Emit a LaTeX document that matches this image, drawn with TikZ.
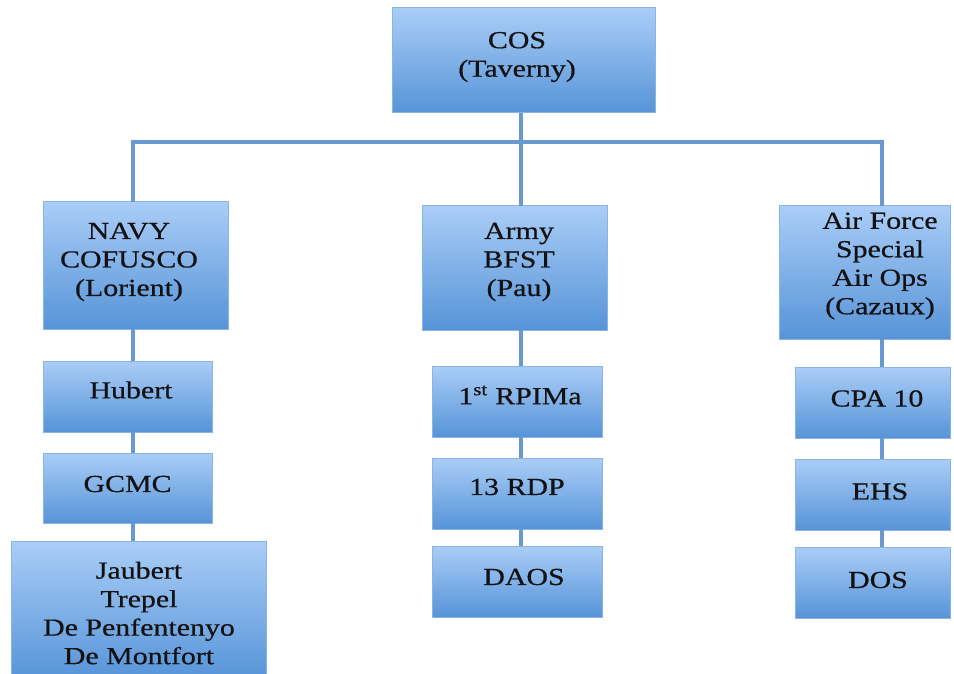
\documentclass[tikz,border=0pt]{standalone}
\usepackage{fontspec}
\setmainfont[FakeStretch=1.22,FakeBold=0.6]{Liberation Serif}
\definecolor{boxtop}{RGB}{170,205,247}
\definecolor{boxbot}{RGB}{86,148,216}
\definecolor{boxline}{RGB}{140,180,226}
\definecolor{connc}{RGB}{104,153,208}
\definecolor{txtc}{RGB}{18,18,18}
\tikzset{
  box/.style={draw=boxline, line width=1pt, top color=boxtop, bottom color=boxbot,
    inner sep=0pt, outer sep=0pt, rectangle},
  conn/.style={draw=connc, line width=3.5pt},
  txt/.style={align=center, inner sep=0pt, text=txtc,
    font=\fontsize{24.5}{28.5}\selectfont}
}
\begin{document}
\begin{tikzpicture}[x=1pt,y=-1pt]
\useasboundingbox (0,0) rectangle (954,674);
% boxes
\node[box, minimum width=263pt, minimum height=105pt] (cos) at (523.5,60.5) {};
\node[box, minimum width=185pt, minimum height=127pt] (navy) at (135.5,265.5) {};
\node[box, minimum width=169pt, minimum height=71pt] (hubert) at (127.5,396.5) {};
\node[box, minimum width=169pt, minimum height=70pt] (gcmc) at (127.5,488) {};
\node[box, minimum width=255pt, minimum height=139pt] (jaubert) at (138.5,610.5) {};
\node[box, minimum width=185pt, minimum height=124pt] (army) at (514.5,268) {};
\node[box, minimum width=170pt, minimum height=71pt] (rpima) at (517,401.5) {};
\node[box, minimum width=170pt, minimum height=71pt] (rdp) at (517,493.5) {};
\node[box, minimum width=170pt, minimum height=71pt] (daos) at (517,581.5) {};
\node[box, minimum width=171pt, minimum height=133pt] (air) at (864.5,272.5) {};
\node[box, minimum width=155pt, minimum height=71pt] (cpa) at (872.5,402.5) {};
\node[box, minimum width=155pt, minimum height=71pt] (ehs) at (872.5,494.5) {};
\node[box, minimum width=155pt, minimum height=71pt] (dos) at (872.5,582.5) {};
% texts
\node[txt] (tcos) at (517,57) {COS\\(Taverny)};
\node[txt] (tnavy) at (129,262) {NAVY\\COFUSCO\\(Lorient)};
\node[txt] (thubert) at (131,390) {Hubert};
\node[txt] (tgcmc) at (127.5,484) {GCMC};
\node[txt] (tjaubert) at (139,613) {Jaubert\\Trepel\\De Penfentenyo\\De Montfort};
\node[txt] (tarmy) at (519,262) {Army\\BFST\\(Pau)};
\node[txt] (trpima) at (520,395) {1\textsuperscript{st} RPIMa};
\node[txt] (trdp) at (517,487) {13 RDP};
\node[txt] (tdaos) at (524,577) {DAOS};
\node[txt] (tair) at (880,266) {Air Force\\Special\\Air Ops\\(Cazaux)};
\node[txt] (tcpa) at (877,398.5) {CPA 10};
\node[txt] (tehs) at (880,491.5) {EHS};
\node[txt] (tdos) at (878,580) {DOS};
% connectors
\coordinate (bl) at (133,142);
\coordinate (bm) at (521,142);
\coordinate (br) at (882,142);
\draw[conn] (cos.south -| bm) -- (army.north -| bm);
\draw[conn] (navy.north -| bl) -- (bl) -- (br) -- (air.north -| br);
\draw[conn] (navy.south -| bl) -- (hubert.north -| bl);
\draw[conn] (hubert.south -| bl) -- (gcmc.north -| bl);
\draw[conn] (gcmc.south -| bl) -- (jaubert.north -| bl);
\draw[conn] (army.south -| bm) -- (rpima.north -| bm);
\draw[conn] (rpima.south -| bm) -- (rdp.north -| bm);
\draw[conn] (rdp.south -| bm) -- (daos.north -| bm);
\draw[conn] (air.south -| br) -- (cpa.north -| br);
\draw[conn] (cpa.south -| br) -- (ehs.north -| br);
\draw[conn] (ehs.south -| br) -- (dos.north -| br);
\end{tikzpicture}
\end{document}
